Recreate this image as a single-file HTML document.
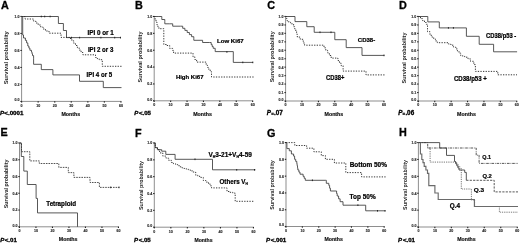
<!DOCTYPE html><html><head><meta charset="utf-8"><style>html,body{margin:0;padding:0;background:#fff;}body{width:520px;height:244px;overflow:hidden;}svg{display:block;filter:grayscale(1) blur(0.3px);}text{font-family:"Liberation Sans", sans-serif;}</style></head><body>
<svg width="520" height="244" viewBox="0 0 520 244">
<rect width="520" height="244" fill="#fff"/>
<text x="1.1" y="8.6" font-size="10.80" font-weight="bold" font-style="normal" text-anchor="start" fill="#000" stroke="#000" stroke-width="0.30">A</text>
<text x="135.0" y="8.6" font-size="10.80" font-weight="bold" font-style="normal" text-anchor="start" fill="#000" stroke="#000" stroke-width="0.30">B</text>
<text x="267.2" y="8.7" font-size="10.80" font-weight="bold" font-style="normal" text-anchor="start" fill="#000" stroke="#000" stroke-width="0.30">C</text>
<text x="399.0" y="8.5" font-size="10.80" font-weight="bold" font-style="normal" text-anchor="start" fill="#000" stroke="#000" stroke-width="0.30">D</text>
<text x="0.6" y="136.4" font-size="10.80" font-weight="bold" font-style="normal" text-anchor="start" fill="#000" stroke="#000" stroke-width="0.30">E</text>
<text x="134.9" y="136.7" font-size="10.80" font-weight="bold" font-style="normal" text-anchor="start" fill="#000" stroke="#000" stroke-width="0.30">F</text>
<text x="267.0" y="136.6" font-size="10.80" font-weight="bold" font-style="normal" text-anchor="start" fill="#000" stroke="#000" stroke-width="0.30">G</text>
<text x="399.0" y="136.4" font-size="10.80" font-weight="bold" font-style="normal" text-anchor="start" fill="#000" stroke="#000" stroke-width="0.30">H</text>
<path d="M21.6,16.5 V101.4 H121.3" fill="none" stroke="#7a7a7a" stroke-width="0.85"/>
<rect x="20.4" y="100.9" width="1.4" height="1.1" fill="#222"/>
<text x="19.6" y="101.1" font-size="3.60" font-weight="bold" font-style="normal" text-anchor="end" fill="#2a2a2a" stroke="#2a2a2a" stroke-width="0.13">0.0</text>
<rect x="20.4" y="83.9" width="1.4" height="1.1" fill="#222"/>
<text x="19.6" y="85.7" font-size="3.60" font-weight="bold" font-style="normal" text-anchor="end" fill="#2a2a2a" stroke="#2a2a2a" stroke-width="0.13">0.2</text>
<rect x="20.4" y="66.9" width="1.4" height="1.1" fill="#222"/>
<text x="19.6" y="68.7" font-size="3.60" font-weight="bold" font-style="normal" text-anchor="end" fill="#2a2a2a" stroke="#2a2a2a" stroke-width="0.13">0.4</text>
<rect x="20.4" y="49.9" width="1.4" height="1.1" fill="#222"/>
<text x="19.6" y="51.8" font-size="3.60" font-weight="bold" font-style="normal" text-anchor="end" fill="#2a2a2a" stroke="#2a2a2a" stroke-width="0.13">0.6</text>
<rect x="20.4" y="32.9" width="1.4" height="1.1" fill="#222"/>
<text x="19.6" y="34.8" font-size="3.60" font-weight="bold" font-style="normal" text-anchor="end" fill="#2a2a2a" stroke="#2a2a2a" stroke-width="0.13">0.8</text>
<rect x="20.4" y="15.9" width="1.4" height="1.1" fill="#222"/>
<text x="19.6" y="17.8" font-size="3.60" font-weight="bold" font-style="normal" text-anchor="end" fill="#2a2a2a" stroke="#2a2a2a" stroke-width="0.13">1.0</text>
<rect x="21.1" y="101.2" width="1.1" height="1.4" fill="#222"/>
<text x="21.6" y="106.8" font-size="3.60" font-weight="bold" font-style="normal" text-anchor="middle" fill="#2a2a2a" stroke="#2a2a2a" stroke-width="0.13">0</text>
<rect x="37.6" y="101.2" width="1.1" height="1.4" fill="#222"/>
<text x="38.2" y="106.8" font-size="3.60" font-weight="bold" font-style="normal" text-anchor="middle" fill="#2a2a2a" stroke="#2a2a2a" stroke-width="0.13">10</text>
<rect x="54.2" y="101.2" width="1.1" height="1.4" fill="#222"/>
<text x="54.7" y="106.8" font-size="3.60" font-weight="bold" font-style="normal" text-anchor="middle" fill="#2a2a2a" stroke="#2a2a2a" stroke-width="0.13">20</text>
<rect x="70.7" y="101.2" width="1.1" height="1.4" fill="#222"/>
<text x="71.2" y="106.8" font-size="3.60" font-weight="bold" font-style="normal" text-anchor="middle" fill="#2a2a2a" stroke="#2a2a2a" stroke-width="0.13">30</text>
<rect x="87.3" y="101.2" width="1.1" height="1.4" fill="#222"/>
<text x="87.8" y="106.8" font-size="3.60" font-weight="bold" font-style="normal" text-anchor="middle" fill="#2a2a2a" stroke="#2a2a2a" stroke-width="0.13">40</text>
<rect x="103.8" y="101.2" width="1.1" height="1.4" fill="#222"/>
<text x="104.4" y="106.8" font-size="3.60" font-weight="bold" font-style="normal" text-anchor="middle" fill="#2a2a2a" stroke="#2a2a2a" stroke-width="0.13">50</text>
<rect x="120.4" y="101.2" width="1.1" height="1.4" fill="#222"/>
<text x="120.9" y="106.8" font-size="3.60" font-weight="bold" font-style="normal" text-anchor="middle" fill="#2a2a2a" stroke="#2a2a2a" stroke-width="0.13">60</text>
<text transform="translate(8.0,57.7) rotate(-90)" x="0" y="0" font-size="5.60" font-weight="bold" text-anchor="middle" fill="#1e1e1e" textLength="53.0" lengthAdjust="spacingAndGlyphs">Survival probability</text>
<path d="M21.8,16.5 H58.4 V23.5 H63.4 V30.5 H66.5 V37.6 H121.0" fill="none" stroke="#3a3a3a" stroke-width="0.85"/>
<rect x="40.8" y="15.7" width="1.0" height="1.6" fill="#222"/>
<rect x="44.2" y="15.7" width="1.0" height="1.6" fill="#222"/>
<rect x="49.6" y="15.7" width="1.0" height="1.6" fill="#222"/>
<rect x="71.0" y="36.8" width="1.0" height="1.6" fill="#222"/>
<rect x="79.1" y="36.8" width="1.0" height="1.6" fill="#222"/>
<rect x="100.4" y="36.8" width="1.0" height="1.6" fill="#222"/>
<rect x="114.2" y="36.8" width="1.0" height="1.6" fill="#222"/>
<rect x="120.0" y="36.8" width="1.0" height="1.6" fill="#222"/>
<path d="M21.8,16.5 H25.0 V19.0 H31.0 H33.4 V21.0 H35.8 V23.0 H38.2 V25.0 H40.7 V27.0 H43.1 V29.0 H45.5 V31.0 H49.0 V33.2 H61.0 V37.4 H68.0 H70.0 V38.5 H71.8 V40.8 H73.7 V43.2 H75.5 V45.5 H77.4 V47.8 H79.2 V50.1 H81.1 V52.5 H82.9 V54.8 H91.9 H95.5 V57.5 H97.3 V58.6 H99.2 V59.7 H102.3 V66.3 H121.5" fill="none" stroke="#222" stroke-width="0.9" stroke-dasharray="1.3,1.3"/>
<path d="M21.8,16.5 H22.7 V35.0 H23.5 V38.0 H25.4 V40.4 H26.6 V42.9 H27.8 V46.0 H28.9 V48.1 H29.9 V50.3 H31.5 V51.9 H32.0 V53.8 H32.5 V55.6 H33.6 V58.8 V64.3 H41.3 V69.6 H52.9 V74.9 H79.5 V81.3 H103.3 V87.6 H121.5" fill="none" stroke="#3a3a3a" stroke-width="0.85"/>
<text x="87.6" y="34.6" font-size="6.40" font-weight="bold" font-style="normal" text-anchor="start" fill="#000" stroke="#000" stroke-width="0.22" textLength="26.2" lengthAdjust="spacingAndGlyphs">IPI 0 or 1</text>
<text x="87.9" y="52.2" font-size="6.40" font-weight="bold" font-style="normal" text-anchor="start" fill="#000" stroke="#000" stroke-width="0.22" textLength="25.4" lengthAdjust="spacingAndGlyphs">IPI 2 or 3</text>
<text x="86.6" y="77.2" font-size="6.40" font-weight="bold" font-style="normal" text-anchor="start" fill="#000" stroke="#000" stroke-width="0.22" textLength="25.6" lengthAdjust="spacingAndGlyphs">IPI 4 or 5</text>
<text x="-0.1" y="114.6" font-size="6.20" font-weight="bold" font-style="normal" text-anchor="start" fill="#000" stroke="#000" stroke-width="0.32"><tspan font-style="italic">P</tspan><tspan dx="0.3">&lt;.0001</tspan></text>
<text x="61.4" y="115.5" font-size="5.60" font-weight="bold" font-style="normal" text-anchor="start" fill="#111" stroke="#111" stroke-width="0.18" textLength="18.8" lengthAdjust="spacingAndGlyphs">Months</text>
<path d="M154.2,16.5 V100.8 H253.1" fill="none" stroke="#7a7a7a" stroke-width="0.85"/>
<rect x="153.0" y="100.2" width="1.4" height="1.1" fill="#222"/>
<text x="152.2" y="100.5" font-size="3.60" font-weight="bold" font-style="normal" text-anchor="end" fill="#2a2a2a" stroke="#2a2a2a" stroke-width="0.13">0.0</text>
<rect x="153.0" y="83.4" width="1.4" height="1.1" fill="#222"/>
<text x="152.2" y="85.2" font-size="3.60" font-weight="bold" font-style="normal" text-anchor="end" fill="#2a2a2a" stroke="#2a2a2a" stroke-width="0.13">0.2</text>
<rect x="153.0" y="66.5" width="1.4" height="1.1" fill="#222"/>
<text x="152.2" y="68.4" font-size="3.60" font-weight="bold" font-style="normal" text-anchor="end" fill="#2a2a2a" stroke="#2a2a2a" stroke-width="0.13">0.4</text>
<rect x="153.0" y="49.7" width="1.4" height="1.1" fill="#222"/>
<text x="152.2" y="51.5" font-size="3.60" font-weight="bold" font-style="normal" text-anchor="end" fill="#2a2a2a" stroke="#2a2a2a" stroke-width="0.13">0.6</text>
<rect x="153.0" y="32.8" width="1.4" height="1.1" fill="#222"/>
<text x="152.2" y="34.7" font-size="3.60" font-weight="bold" font-style="normal" text-anchor="end" fill="#2a2a2a" stroke="#2a2a2a" stroke-width="0.13">0.8</text>
<rect x="153.0" y="15.9" width="1.4" height="1.1" fill="#222"/>
<text x="152.2" y="17.8" font-size="3.60" font-weight="bold" font-style="normal" text-anchor="end" fill="#2a2a2a" stroke="#2a2a2a" stroke-width="0.13">1.0</text>
<rect x="153.6" y="100.6" width="1.1" height="1.4" fill="#222"/>
<text x="154.2" y="106.2" font-size="3.60" font-weight="bold" font-style="normal" text-anchor="middle" fill="#2a2a2a" stroke="#2a2a2a" stroke-width="0.13">0</text>
<rect x="170.1" y="100.6" width="1.1" height="1.4" fill="#222"/>
<text x="170.6" y="106.2" font-size="3.60" font-weight="bold" font-style="normal" text-anchor="middle" fill="#2a2a2a" stroke="#2a2a2a" stroke-width="0.13">10</text>
<rect x="186.5" y="100.6" width="1.1" height="1.4" fill="#222"/>
<text x="187.0" y="106.2" font-size="3.60" font-weight="bold" font-style="normal" text-anchor="middle" fill="#2a2a2a" stroke="#2a2a2a" stroke-width="0.13">20</text>
<rect x="202.9" y="100.6" width="1.1" height="1.4" fill="#222"/>
<text x="203.4" y="106.2" font-size="3.60" font-weight="bold" font-style="normal" text-anchor="middle" fill="#2a2a2a" stroke="#2a2a2a" stroke-width="0.13">30</text>
<rect x="219.3" y="100.6" width="1.1" height="1.4" fill="#222"/>
<text x="219.9" y="106.2" font-size="3.60" font-weight="bold" font-style="normal" text-anchor="middle" fill="#2a2a2a" stroke="#2a2a2a" stroke-width="0.13">40</text>
<rect x="235.7" y="100.6" width="1.1" height="1.4" fill="#222"/>
<text x="236.3" y="106.2" font-size="3.60" font-weight="bold" font-style="normal" text-anchor="middle" fill="#2a2a2a" stroke="#2a2a2a" stroke-width="0.13">50</text>
<rect x="252.1" y="100.6" width="1.1" height="1.4" fill="#222"/>
<text x="252.7" y="106.2" font-size="3.60" font-weight="bold" font-style="normal" text-anchor="middle" fill="#2a2a2a" stroke="#2a2a2a" stroke-width="0.13">60</text>
<text transform="translate(141.9,57.0) rotate(-90)" x="0" y="0" font-size="5.60" font-weight="bold" text-anchor="middle" fill="#1e1e1e" textLength="51.0" lengthAdjust="spacingAndGlyphs">Survival probability</text>
<path d="M154.2,16.5 H158.9 H161.8 V19.5 H164.8 V21.4 V23.8 H169.7 H172.7 V26.2 H180.5 H182.7 V28.3 H184.9 V30.4 H187.2 V32.5 H189.4 V34.6 H191.6 V36.7 H193.8 V38.8 V40.3 H202.6 V42.5 H209.5 H211.2 V44.6 H212.2 V46.5 H213.2 V48.3 H215.2 V51.6 H233.3 V62.4 H253.0" fill="none" stroke="#3a3a3a" stroke-width="0.85"/>
<rect x="226.4" y="51.1" width="1.0" height="1.6" fill="#222"/>
<rect x="242.3" y="61.6" width="1.0" height="1.6" fill="#222"/>
<rect x="252.3" y="61.6" width="1.0" height="1.6" fill="#222"/>
<path d="M154.2,16.5 H155.1 V19.3 H156.0 V22.0 H156.9 V24.8 H157.9 V26.8 H158.9 V28.7 H163.8 V44.5 H166.7 V45.5 H169.7 V48.4 H172.6 V50.4 H173.6 V53.1 H193.0 V56.8 H194.8 V59.5 H196.6 V62.1 H204.0 H206.2 V65.3 H207.5 V67.4 H208.8 V69.5 H210.2 V71.7 H211.5 V73.8 V77.0 H254.0" fill="none" stroke="#222" stroke-width="0.9" stroke-dasharray="1.3,1.3"/>
<text x="217.0" y="42.6" font-size="6.10" font-weight="bold" font-style="normal" text-anchor="start" fill="#000" stroke="#000" stroke-width="0.21" textLength="26.7" lengthAdjust="spacingAndGlyphs">Low Ki67</text>
<text x="175.9" y="78.9" font-size="6.10" font-weight="bold" font-style="normal" text-anchor="start" fill="#000" stroke="#000" stroke-width="0.21" textLength="27.6" lengthAdjust="spacingAndGlyphs">High Ki67</text>
<text x="134.2" y="114.6" font-size="6.10" font-weight="bold" font-style="normal" text-anchor="start" fill="#000" stroke="#000" stroke-width="0.32"><tspan font-style="italic">P</tspan><tspan dx="0.7">&lt;.05</tspan></text>
<text x="193.2" y="115.5" font-size="5.60" font-weight="bold" font-style="normal" text-anchor="start" fill="#111" stroke="#111" stroke-width="0.18" textLength="18.8" lengthAdjust="spacingAndGlyphs">Months</text>
<path d="M285.6,16.5 V101.0 H384.4" fill="none" stroke="#7a7a7a" stroke-width="0.85"/>
<rect x="284.4" y="100.5" width="1.4" height="1.1" fill="#222"/>
<text x="283.6" y="100.7" font-size="3.60" font-weight="bold" font-style="normal" text-anchor="end" fill="#2a2a2a" stroke="#2a2a2a" stroke-width="0.13">0.0</text>
<rect x="284.4" y="92.0" width="1.4" height="1.1" fill="#222"/>
<text x="283.6" y="93.8" font-size="3.60" font-weight="bold" font-style="normal" text-anchor="end" fill="#2a2a2a" stroke="#2a2a2a" stroke-width="0.13">0.1</text>
<rect x="284.4" y="83.5" width="1.4" height="1.1" fill="#222"/>
<text x="283.6" y="85.4" font-size="3.60" font-weight="bold" font-style="normal" text-anchor="end" fill="#2a2a2a" stroke="#2a2a2a" stroke-width="0.13">0.2</text>
<rect x="284.4" y="75.1" width="1.4" height="1.1" fill="#222"/>
<text x="283.6" y="76.9" font-size="3.60" font-weight="bold" font-style="normal" text-anchor="end" fill="#2a2a2a" stroke="#2a2a2a" stroke-width="0.13">0.3</text>
<rect x="284.4" y="66.6" width="1.4" height="1.1" fill="#222"/>
<text x="283.6" y="68.5" font-size="3.60" font-weight="bold" font-style="normal" text-anchor="end" fill="#2a2a2a" stroke="#2a2a2a" stroke-width="0.13">0.4</text>
<rect x="284.4" y="58.2" width="1.4" height="1.1" fill="#222"/>
<text x="283.6" y="60.0" font-size="3.60" font-weight="bold" font-style="normal" text-anchor="end" fill="#2a2a2a" stroke="#2a2a2a" stroke-width="0.13">0.5</text>
<rect x="284.4" y="49.7" width="1.4" height="1.1" fill="#222"/>
<text x="283.6" y="51.6" font-size="3.60" font-weight="bold" font-style="normal" text-anchor="end" fill="#2a2a2a" stroke="#2a2a2a" stroke-width="0.13">0.6</text>
<rect x="284.4" y="41.3" width="1.4" height="1.1" fill="#222"/>
<text x="283.6" y="43.1" font-size="3.60" font-weight="bold" font-style="normal" text-anchor="end" fill="#2a2a2a" stroke="#2a2a2a" stroke-width="0.13">0.7</text>
<rect x="284.4" y="32.8" width="1.4" height="1.1" fill="#222"/>
<text x="283.6" y="34.7" font-size="3.60" font-weight="bold" font-style="normal" text-anchor="end" fill="#2a2a2a" stroke="#2a2a2a" stroke-width="0.13">0.8</text>
<rect x="284.4" y="24.4" width="1.4" height="1.1" fill="#222"/>
<text x="283.6" y="26.3" font-size="3.60" font-weight="bold" font-style="normal" text-anchor="end" fill="#2a2a2a" stroke="#2a2a2a" stroke-width="0.13">0.9</text>
<rect x="284.4" y="15.9" width="1.4" height="1.1" fill="#222"/>
<text x="283.6" y="17.8" font-size="3.60" font-weight="bold" font-style="normal" text-anchor="end" fill="#2a2a2a" stroke="#2a2a2a" stroke-width="0.13">1.0</text>
<rect x="285.1" y="100.8" width="1.1" height="1.4" fill="#222"/>
<text x="285.6" y="106.4" font-size="3.60" font-weight="bold" font-style="normal" text-anchor="middle" fill="#2a2a2a" stroke="#2a2a2a" stroke-width="0.13">0</text>
<rect x="301.4" y="100.8" width="1.1" height="1.4" fill="#222"/>
<text x="302.0" y="106.4" font-size="3.60" font-weight="bold" font-style="normal" text-anchor="middle" fill="#2a2a2a" stroke="#2a2a2a" stroke-width="0.13">10</text>
<rect x="317.9" y="100.8" width="1.1" height="1.4" fill="#222"/>
<text x="318.4" y="106.4" font-size="3.60" font-weight="bold" font-style="normal" text-anchor="middle" fill="#2a2a2a" stroke="#2a2a2a" stroke-width="0.13">20</text>
<rect x="334.2" y="100.8" width="1.1" height="1.4" fill="#222"/>
<text x="334.8" y="106.4" font-size="3.60" font-weight="bold" font-style="normal" text-anchor="middle" fill="#2a2a2a" stroke="#2a2a2a" stroke-width="0.13">30</text>
<rect x="350.6" y="100.8" width="1.1" height="1.4" fill="#222"/>
<text x="351.2" y="106.4" font-size="3.60" font-weight="bold" font-style="normal" text-anchor="middle" fill="#2a2a2a" stroke="#2a2a2a" stroke-width="0.13">40</text>
<rect x="367.1" y="100.8" width="1.1" height="1.4" fill="#222"/>
<text x="367.6" y="106.4" font-size="3.60" font-weight="bold" font-style="normal" text-anchor="middle" fill="#2a2a2a" stroke="#2a2a2a" stroke-width="0.13">50</text>
<rect x="383.4" y="100.8" width="1.1" height="1.4" fill="#222"/>
<text x="384.0" y="106.4" font-size="3.60" font-weight="bold" font-style="normal" text-anchor="middle" fill="#2a2a2a" stroke="#2a2a2a" stroke-width="0.13">60</text>
<text transform="translate(273.8,56.8) rotate(-90)" x="0" y="0" font-size="5.60" font-weight="bold" text-anchor="middle" fill="#1e1e1e" textLength="51.0" lengthAdjust="spacingAndGlyphs">Survival probability</text>
<path d="M285.6,16.5 H295.0 V21.6 H306.8 V26.7 H314.2 V32.3 H334.8 V39.7 H346.2 V47.6 H362.0 V55.4 H384.3" fill="none" stroke="#3a3a3a" stroke-width="0.85"/>
<rect x="319.5" y="31.5" width="1.0" height="1.6" fill="#222"/>
<rect x="330.5" y="31.5" width="1.0" height="1.6" fill="#222"/>
<rect x="383.5" y="54.6" width="1.0" height="1.6" fill="#222"/>
<path d="M285.6,16.5 H286.3 V18.6 H287.0 V20.8 H288.8 V22.3 H290.6 V23.8 H293.6 V26.7 H294.7 V28.9 H295.8 V31.2 H296.6 V34.1 H297.3 V37.1 H300.2 V39.3 H303.2 V41.5 H303.9 V43.4 H304.6 V45.2 H322.2 H324.0 V47.8 H325.8 V50.4 H327.6 V52.9 H329.4 V55.5 H331.2 V58.1 H336.2 H337.9 V60.6 H339.5 V63.2 H341.2 V65.7 H343.1 V71.1 H366.0 V74.9 H385.0" fill="none" stroke="#222" stroke-width="0.9" stroke-dasharray="1.3,1.3"/>
<text x="357.8" y="42.0" font-size="6.20" font-weight="bold" font-style="normal" text-anchor="start" fill="#000" stroke="#000" stroke-width="0.22" textLength="17.4" lengthAdjust="spacingAndGlyphs">CD38-</text>
<text x="326.0" y="79.6" font-size="6.40" font-weight="bold" font-style="normal" text-anchor="start" fill="#000" stroke="#000" stroke-width="0.22" textLength="18.3" lengthAdjust="spacingAndGlyphs">CD38+</text>
<text x="266.8" y="114.7" font-size="6.30" font-weight="bold" font-style="normal" text-anchor="start" fill="#000" stroke="#000" stroke-width="0.32"><tspan font-style="italic">P</tspan><tspan font-size="4.4" dx="0.2" dy="0.5">=</tspan><tspan dx="0.2" dy="-0.5">.07</tspan></text>
<text x="324.5" y="115.5" font-size="5.60" font-weight="bold" font-style="normal" text-anchor="start" fill="#111" stroke="#111" stroke-width="0.18" textLength="18.8" lengthAdjust="spacingAndGlyphs">Months</text>
<path d="M418.3,16.5 V101.0 H517.2" fill="none" stroke="#7a7a7a" stroke-width="0.85"/>
<rect x="417.1" y="100.5" width="1.4" height="1.1" fill="#222"/>
<text x="416.3" y="100.7" font-size="3.60" font-weight="bold" font-style="normal" text-anchor="end" fill="#2a2a2a" stroke="#2a2a2a" stroke-width="0.13">0.0</text>
<rect x="417.1" y="92.0" width="1.4" height="1.1" fill="#222"/>
<text x="416.3" y="93.8" font-size="3.60" font-weight="bold" font-style="normal" text-anchor="end" fill="#2a2a2a" stroke="#2a2a2a" stroke-width="0.13">0.1</text>
<rect x="417.1" y="83.5" width="1.4" height="1.1" fill="#222"/>
<text x="416.3" y="85.4" font-size="3.60" font-weight="bold" font-style="normal" text-anchor="end" fill="#2a2a2a" stroke="#2a2a2a" stroke-width="0.13">0.2</text>
<rect x="417.1" y="75.1" width="1.4" height="1.1" fill="#222"/>
<text x="416.3" y="76.9" font-size="3.60" font-weight="bold" font-style="normal" text-anchor="end" fill="#2a2a2a" stroke="#2a2a2a" stroke-width="0.13">0.3</text>
<rect x="417.1" y="66.6" width="1.4" height="1.1" fill="#222"/>
<text x="416.3" y="68.5" font-size="3.60" font-weight="bold" font-style="normal" text-anchor="end" fill="#2a2a2a" stroke="#2a2a2a" stroke-width="0.13">0.4</text>
<rect x="417.1" y="58.2" width="1.4" height="1.1" fill="#222"/>
<text x="416.3" y="60.0" font-size="3.60" font-weight="bold" font-style="normal" text-anchor="end" fill="#2a2a2a" stroke="#2a2a2a" stroke-width="0.13">0.5</text>
<rect x="417.1" y="49.7" width="1.4" height="1.1" fill="#222"/>
<text x="416.3" y="51.6" font-size="3.60" font-weight="bold" font-style="normal" text-anchor="end" fill="#2a2a2a" stroke="#2a2a2a" stroke-width="0.13">0.6</text>
<rect x="417.1" y="41.3" width="1.4" height="1.1" fill="#222"/>
<text x="416.3" y="43.1" font-size="3.60" font-weight="bold" font-style="normal" text-anchor="end" fill="#2a2a2a" stroke="#2a2a2a" stroke-width="0.13">0.7</text>
<rect x="417.1" y="32.8" width="1.4" height="1.1" fill="#222"/>
<text x="416.3" y="34.7" font-size="3.60" font-weight="bold" font-style="normal" text-anchor="end" fill="#2a2a2a" stroke="#2a2a2a" stroke-width="0.13">0.8</text>
<rect x="417.1" y="24.4" width="1.4" height="1.1" fill="#222"/>
<text x="416.3" y="26.3" font-size="3.60" font-weight="bold" font-style="normal" text-anchor="end" fill="#2a2a2a" stroke="#2a2a2a" stroke-width="0.13">0.9</text>
<rect x="417.1" y="15.9" width="1.4" height="1.1" fill="#222"/>
<text x="416.3" y="17.8" font-size="3.60" font-weight="bold" font-style="normal" text-anchor="end" fill="#2a2a2a" stroke="#2a2a2a" stroke-width="0.13">1.0</text>
<rect x="417.8" y="100.8" width="1.1" height="1.4" fill="#222"/>
<text x="418.3" y="106.4" font-size="3.60" font-weight="bold" font-style="normal" text-anchor="middle" fill="#2a2a2a" stroke="#2a2a2a" stroke-width="0.13">0</text>
<rect x="434.2" y="100.8" width="1.1" height="1.4" fill="#222"/>
<text x="434.7" y="106.4" font-size="3.60" font-weight="bold" font-style="normal" text-anchor="middle" fill="#2a2a2a" stroke="#2a2a2a" stroke-width="0.13">10</text>
<rect x="450.6" y="100.8" width="1.1" height="1.4" fill="#222"/>
<text x="451.1" y="106.4" font-size="3.60" font-weight="bold" font-style="normal" text-anchor="middle" fill="#2a2a2a" stroke="#2a2a2a" stroke-width="0.13">20</text>
<rect x="467.0" y="100.8" width="1.1" height="1.4" fill="#222"/>
<text x="467.5" y="106.4" font-size="3.60" font-weight="bold" font-style="normal" text-anchor="middle" fill="#2a2a2a" stroke="#2a2a2a" stroke-width="0.13">30</text>
<rect x="483.4" y="100.8" width="1.1" height="1.4" fill="#222"/>
<text x="484.0" y="106.4" font-size="3.60" font-weight="bold" font-style="normal" text-anchor="middle" fill="#2a2a2a" stroke="#2a2a2a" stroke-width="0.13">40</text>
<rect x="499.8" y="100.8" width="1.1" height="1.4" fill="#222"/>
<text x="500.4" y="106.4" font-size="3.60" font-weight="bold" font-style="normal" text-anchor="middle" fill="#2a2a2a" stroke="#2a2a2a" stroke-width="0.13">50</text>
<rect x="516.2" y="100.8" width="1.1" height="1.4" fill="#222"/>
<text x="516.8" y="106.4" font-size="3.60" font-weight="bold" font-style="normal" text-anchor="middle" fill="#2a2a2a" stroke="#2a2a2a" stroke-width="0.13">60</text>
<text transform="translate(406.3,58.0) rotate(-90)" x="0" y="0" font-size="5.60" font-weight="bold" text-anchor="middle" fill="#1e1e1e" textLength="51.0" lengthAdjust="spacingAndGlyphs">Survival probability</text>
<path d="M418.3,16.5 H427.8 V21.9 H439.3 V27.9 H466.4 V36.3 H479.2 V44.3 H493.6 V51.8 H517.1" fill="none" stroke="#3a3a3a" stroke-width="0.85"/>
<rect x="447.9" y="27.1" width="1.0" height="1.6" fill="#222"/>
<rect x="452.9" y="27.1" width="1.0" height="1.6" fill="#222"/>
<path d="M418.3,16.5 H420.5 V18.6 H422.6 V20.6 H424.5 V22.5 H426.3 V24.3 H427.5 V31.7 H430.0 V35.3 H431.9 V37.1 H433.7 V39.0 H435.5 V40.9 H437.3 V42.7 H446.0 H448.4 V44.0 H450.9 V45.2 H453.4 V47.0 H455.8 V48.9 H457.4 V51.0 H459.0 V53.1 H460.7 V55.6 H462.8 V56.4 H464.8 V57.2 H468.0 V58.9 H470.5 V61.3 H473.8 V64.6 H475.4 V71.4 H497.8 V74.8 H517.0" fill="none" stroke="#222" stroke-width="0.9" stroke-dasharray="1.3,1.3"/>
<text x="486.1" y="37.9" font-size="6.60" font-weight="bold" font-style="normal" text-anchor="start" fill="#000" stroke="#000" stroke-width="0.23" textLength="30.2" lengthAdjust="spacingAndGlyphs">CD38/p53 -</text>
<text x="453.9" y="80.5" font-size="6.60" font-weight="bold" font-style="normal" text-anchor="start" fill="#000" stroke="#000" stroke-width="0.23" textLength="33.0" lengthAdjust="spacingAndGlyphs">CD38/p53 +</text>
<text x="398.2" y="114.7" font-size="6.30" font-weight="bold" font-style="normal" text-anchor="start" fill="#000" stroke="#000" stroke-width="0.32"><tspan font-style="italic">P</tspan><tspan font-size="4.4" dx="0.2" dy="0.5">=</tspan><tspan dx="0.2" dy="-0.5">.06</tspan></text>
<text x="457.1" y="115.5" font-size="5.60" font-weight="bold" font-style="normal" text-anchor="start" fill="#111" stroke="#111" stroke-width="0.18" textLength="18.8" lengthAdjust="spacingAndGlyphs">Months</text>
<path d="M19.5,143.0 V226.8 H118.8" fill="none" stroke="#7a7a7a" stroke-width="0.85"/>
<rect x="18.3" y="226.2" width="1.4" height="1.1" fill="#222"/>
<text x="17.5" y="226.5" font-size="3.60" font-weight="bold" font-style="normal" text-anchor="end" fill="#2a2a2a" stroke="#2a2a2a" stroke-width="0.13">0.0</text>
<rect x="18.3" y="209.5" width="1.4" height="1.1" fill="#222"/>
<text x="17.5" y="211.3" font-size="3.60" font-weight="bold" font-style="normal" text-anchor="end" fill="#2a2a2a" stroke="#2a2a2a" stroke-width="0.13">0.2</text>
<rect x="18.3" y="192.7" width="1.4" height="1.1" fill="#222"/>
<text x="17.5" y="194.6" font-size="3.60" font-weight="bold" font-style="normal" text-anchor="end" fill="#2a2a2a" stroke="#2a2a2a" stroke-width="0.13">0.4</text>
<rect x="18.3" y="176.0" width="1.4" height="1.1" fill="#222"/>
<text x="17.5" y="177.8" font-size="3.60" font-weight="bold" font-style="normal" text-anchor="end" fill="#2a2a2a" stroke="#2a2a2a" stroke-width="0.13">0.6</text>
<rect x="18.3" y="159.2" width="1.4" height="1.1" fill="#222"/>
<text x="17.5" y="161.1" font-size="3.60" font-weight="bold" font-style="normal" text-anchor="end" fill="#2a2a2a" stroke="#2a2a2a" stroke-width="0.13">0.8</text>
<rect x="18.3" y="142.4" width="1.4" height="1.1" fill="#222"/>
<text x="17.5" y="144.3" font-size="3.60" font-weight="bold" font-style="normal" text-anchor="end" fill="#2a2a2a" stroke="#2a2a2a" stroke-width="0.13">1.0</text>
<rect x="18.9" y="226.6" width="1.1" height="1.4" fill="#222"/>
<text x="19.5" y="232.2" font-size="3.60" font-weight="bold" font-style="normal" text-anchor="middle" fill="#2a2a2a" stroke="#2a2a2a" stroke-width="0.13">0</text>
<rect x="35.4" y="226.6" width="1.1" height="1.4" fill="#222"/>
<text x="36.0" y="232.2" font-size="3.60" font-weight="bold" font-style="normal" text-anchor="middle" fill="#2a2a2a" stroke="#2a2a2a" stroke-width="0.13">10</text>
<rect x="51.9" y="226.6" width="1.1" height="1.4" fill="#222"/>
<text x="52.5" y="232.2" font-size="3.60" font-weight="bold" font-style="normal" text-anchor="middle" fill="#2a2a2a" stroke="#2a2a2a" stroke-width="0.13">20</text>
<rect x="68.4" y="226.6" width="1.1" height="1.4" fill="#222"/>
<text x="69.0" y="232.2" font-size="3.60" font-weight="bold" font-style="normal" text-anchor="middle" fill="#2a2a2a" stroke="#2a2a2a" stroke-width="0.13">30</text>
<rect x="84.9" y="226.6" width="1.1" height="1.4" fill="#222"/>
<text x="85.4" y="232.2" font-size="3.60" font-weight="bold" font-style="normal" text-anchor="middle" fill="#2a2a2a" stroke="#2a2a2a" stroke-width="0.13">40</text>
<rect x="101.4" y="226.6" width="1.1" height="1.4" fill="#222"/>
<text x="101.9" y="232.2" font-size="3.60" font-weight="bold" font-style="normal" text-anchor="middle" fill="#2a2a2a" stroke="#2a2a2a" stroke-width="0.13">50</text>
<rect x="117.9" y="226.6" width="1.1" height="1.4" fill="#222"/>
<text x="118.4" y="232.2" font-size="3.60" font-weight="bold" font-style="normal" text-anchor="middle" fill="#2a2a2a" stroke="#2a2a2a" stroke-width="0.13">60</text>
<text transform="translate(7.6,184.0) rotate(-90)" x="0" y="0" font-size="5.50" font-weight="bold" text-anchor="middle" fill="#1e1e1e" textLength="48.6" lengthAdjust="spacingAndGlyphs">Survival probability</text>
<path d="M19.6,143.0 H21.3 V156.5 H23.8 V171.1 H27.3 V184.5 H36.1 V198.4 H37.5 V212.9 H77.5 V226.8" fill="none" stroke="#3a3a3a" stroke-width="0.85"/>
<path d="M19.6,143.0 H21.5 V151.7 H29.8 V160.9 H39.3 V163.5 H58.8 V167.4 H62.6 H68.3 V172.6 H73.9 V177.4 H90.0 V182.5 H99.4 V187.4 H119.2" fill="none" stroke="#333" stroke-width="0.85" stroke-dasharray="1.6,1.0"/>
<rect x="110.2" y="186.6" width="1.0" height="1.6" fill="#222"/>
<rect x="118.5" y="186.6" width="1.0" height="1.6" fill="#222"/>
<text x="46.3" y="206.1" font-size="6.40" font-weight="bold" font-style="normal" text-anchor="start" fill="#000" stroke="#000" stroke-width="0.22" textLength="29.7" lengthAdjust="spacingAndGlyphs">Tetraploid</text>
<text x="0.2" y="241.9" font-size="6.10" font-weight="bold" font-style="normal" text-anchor="start" fill="#000" stroke="#000" stroke-width="0.32"><tspan font-style="italic">P</tspan><tspan dx="0.5">&lt;.01</tspan></text>
<text x="58.8" y="241.2" font-size="5.60" font-weight="bold" font-style="normal" text-anchor="start" fill="#111" stroke="#111" stroke-width="0.18" textLength="18.7" lengthAdjust="spacingAndGlyphs">Months</text>
<path d="M154.3,143.0 V227.2 H253.9" fill="none" stroke="#7a7a7a" stroke-width="0.85"/>
<rect x="153.1" y="226.6" width="1.4" height="1.1" fill="#222"/>
<text x="152.3" y="226.9" font-size="3.60" font-weight="bold" font-style="normal" text-anchor="end" fill="#2a2a2a" stroke="#2a2a2a" stroke-width="0.13">0.0</text>
<rect x="153.1" y="209.8" width="1.4" height="1.1" fill="#222"/>
<text x="152.3" y="211.7" font-size="3.60" font-weight="bold" font-style="normal" text-anchor="end" fill="#2a2a2a" stroke="#2a2a2a" stroke-width="0.13">0.2</text>
<rect x="153.1" y="193.0" width="1.4" height="1.1" fill="#222"/>
<text x="152.3" y="194.8" font-size="3.60" font-weight="bold" font-style="normal" text-anchor="end" fill="#2a2a2a" stroke="#2a2a2a" stroke-width="0.13">0.4</text>
<rect x="153.1" y="176.1" width="1.4" height="1.1" fill="#222"/>
<text x="152.3" y="178.0" font-size="3.60" font-weight="bold" font-style="normal" text-anchor="end" fill="#2a2a2a" stroke="#2a2a2a" stroke-width="0.13">0.6</text>
<rect x="153.1" y="159.3" width="1.4" height="1.1" fill="#222"/>
<text x="152.3" y="161.1" font-size="3.60" font-weight="bold" font-style="normal" text-anchor="end" fill="#2a2a2a" stroke="#2a2a2a" stroke-width="0.13">0.8</text>
<rect x="153.1" y="142.4" width="1.4" height="1.1" fill="#222"/>
<text x="152.3" y="144.3" font-size="3.60" font-weight="bold" font-style="normal" text-anchor="end" fill="#2a2a2a" stroke="#2a2a2a" stroke-width="0.13">1.0</text>
<rect x="153.8" y="227.0" width="1.1" height="1.4" fill="#222"/>
<text x="154.3" y="232.6" font-size="3.60" font-weight="bold" font-style="normal" text-anchor="middle" fill="#2a2a2a" stroke="#2a2a2a" stroke-width="0.13">0</text>
<rect x="170.3" y="227.0" width="1.1" height="1.4" fill="#222"/>
<text x="170.8" y="232.6" font-size="3.60" font-weight="bold" font-style="normal" text-anchor="middle" fill="#2a2a2a" stroke="#2a2a2a" stroke-width="0.13">10</text>
<rect x="186.8" y="227.0" width="1.1" height="1.4" fill="#222"/>
<text x="187.4" y="232.6" font-size="3.60" font-weight="bold" font-style="normal" text-anchor="middle" fill="#2a2a2a" stroke="#2a2a2a" stroke-width="0.13">20</text>
<rect x="203.3" y="227.0" width="1.1" height="1.4" fill="#222"/>
<text x="203.9" y="232.6" font-size="3.60" font-weight="bold" font-style="normal" text-anchor="middle" fill="#2a2a2a" stroke="#2a2a2a" stroke-width="0.13">30</text>
<rect x="219.9" y="227.0" width="1.1" height="1.4" fill="#222"/>
<text x="220.4" y="232.6" font-size="3.60" font-weight="bold" font-style="normal" text-anchor="middle" fill="#2a2a2a" stroke="#2a2a2a" stroke-width="0.13">40</text>
<rect x="236.4" y="227.0" width="1.1" height="1.4" fill="#222"/>
<text x="237.0" y="232.6" font-size="3.60" font-weight="bold" font-style="normal" text-anchor="middle" fill="#2a2a2a" stroke="#2a2a2a" stroke-width="0.13">50</text>
<rect x="252.9" y="227.0" width="1.1" height="1.4" fill="#222"/>
<text x="253.5" y="232.6" font-size="3.60" font-weight="bold" font-style="normal" text-anchor="middle" fill="#2a2a2a" stroke="#2a2a2a" stroke-width="0.13">60</text>
<text transform="translate(143.2,185.5) rotate(-90)" x="0" y="0" font-size="5.50" font-weight="bold" text-anchor="middle" fill="#1e1e1e" textLength="49.1" lengthAdjust="spacingAndGlyphs">Survival probability</text>
<path d="M154.3,143.0 H155.3 V147.6 H157.4 V149.7 H161.7 V151.2 H165.8 V154.4 H175.1 V159.3 H212.5 V169.8 H255.5" fill="none" stroke="#3a3a3a" stroke-width="0.85"/>
<rect x="236.2" y="169.0" width="1.0" height="1.6" fill="#222"/>
<rect x="254.0" y="169.0" width="1.0" height="1.6" fill="#222"/>
<rect x="194.5" y="158.5" width="1.0" height="1.6" fill="#222"/>
<path d="M154.3,143.0 H155.3 V147.6 H157.4 V149.7 H159.6 V152.9 H162.8 V156.1 H166.0 V158.2 H168.7 V160.3 H171.3 V162.5 H173.4 V163.6 H175.6 V164.6 H177.7 V165.7 H179.8 V166.8 H181.9 V167.8 H184.0 V168.5 H186.2 V169.2 H188.3 V169.9 H190.4 V170.9 H192.6 V172.0 H195.7 V175.2 H197.8 V176.3 H200.0 V177.4 H203.3 V180.5 H205.9 V182.1 H208.5 V183.7 H210.0 V185.8 H211.5 V187.9 H224.6 H227.0 V191.5 H229.9 V192.3 H232.8 V193.1 H235.2 V201.3 H254.1" fill="none" stroke="#222" stroke-width="0.9" stroke-dasharray="1.3,1.3"/>
<text x="208.4" y="156.8" font-size="6.3" font-weight="bold" fill="#000" stroke="#000" stroke-width="0.2" textLength="43.6" lengthAdjust="spacingAndGlyphs">V<tspan font-size="3.4" dy="0.9">H</tspan><tspan dy="-0.9">3-21+V</tspan><tspan font-size="3.4" dy="0.9">H</tspan><tspan dy="-0.9">4-59</tspan></text>
<text x="219.5" y="184.1" font-size="6.5" font-weight="bold" fill="#000" stroke="#000" stroke-width="0.2" textLength="28.4" lengthAdjust="spacingAndGlyphs">Others V<tspan font-size="3.4" dy="0.9">H</tspan></text>
<text x="133.9" y="241.9" font-size="6.10" font-weight="bold" font-style="normal" text-anchor="start" fill="#000" stroke="#000" stroke-width="0.32"><tspan font-style="italic">P</tspan><tspan dx="0.7">&lt;.05</tspan></text>
<text x="194.4" y="241.9" font-size="5.60" font-weight="bold" font-style="normal" text-anchor="start" fill="#111" stroke="#111" stroke-width="0.18" textLength="18.1" lengthAdjust="spacingAndGlyphs">Months</text>
<path d="M286.0,142.6 V226.5 H384.6" fill="none" stroke="#7a7a7a" stroke-width="0.85"/>
<rect x="284.8" y="225.9" width="1.4" height="1.1" fill="#222"/>
<text x="284.0" y="226.2" font-size="3.60" font-weight="bold" font-style="normal" text-anchor="end" fill="#2a2a2a" stroke="#2a2a2a" stroke-width="0.13">0.0</text>
<rect x="284.8" y="209.2" width="1.4" height="1.1" fill="#222"/>
<text x="284.0" y="211.0" font-size="3.60" font-weight="bold" font-style="normal" text-anchor="end" fill="#2a2a2a" stroke="#2a2a2a" stroke-width="0.13">0.2</text>
<rect x="284.8" y="192.4" width="1.4" height="1.1" fill="#222"/>
<text x="284.0" y="194.2" font-size="3.60" font-weight="bold" font-style="normal" text-anchor="end" fill="#2a2a2a" stroke="#2a2a2a" stroke-width="0.13">0.4</text>
<rect x="284.8" y="175.6" width="1.4" height="1.1" fill="#222"/>
<text x="284.0" y="177.5" font-size="3.60" font-weight="bold" font-style="normal" text-anchor="end" fill="#2a2a2a" stroke="#2a2a2a" stroke-width="0.13">0.6</text>
<rect x="284.8" y="158.8" width="1.4" height="1.1" fill="#222"/>
<text x="284.0" y="160.7" font-size="3.60" font-weight="bold" font-style="normal" text-anchor="end" fill="#2a2a2a" stroke="#2a2a2a" stroke-width="0.13">0.8</text>
<rect x="284.8" y="142.0" width="1.4" height="1.1" fill="#222"/>
<text x="284.0" y="143.9" font-size="3.60" font-weight="bold" font-style="normal" text-anchor="end" fill="#2a2a2a" stroke="#2a2a2a" stroke-width="0.13">1.0</text>
<rect x="285.4" y="226.3" width="1.1" height="1.4" fill="#222"/>
<text x="286.0" y="231.9" font-size="3.60" font-weight="bold" font-style="normal" text-anchor="middle" fill="#2a2a2a" stroke="#2a2a2a" stroke-width="0.13">0</text>
<rect x="301.8" y="226.3" width="1.1" height="1.4" fill="#222"/>
<text x="302.4" y="231.9" font-size="3.60" font-weight="bold" font-style="normal" text-anchor="middle" fill="#2a2a2a" stroke="#2a2a2a" stroke-width="0.13">10</text>
<rect x="318.2" y="226.3" width="1.1" height="1.4" fill="#222"/>
<text x="318.7" y="231.9" font-size="3.60" font-weight="bold" font-style="normal" text-anchor="middle" fill="#2a2a2a" stroke="#2a2a2a" stroke-width="0.13">20</text>
<rect x="334.6" y="226.3" width="1.1" height="1.4" fill="#222"/>
<text x="335.1" y="231.9" font-size="3.60" font-weight="bold" font-style="normal" text-anchor="middle" fill="#2a2a2a" stroke="#2a2a2a" stroke-width="0.13">30</text>
<rect x="350.9" y="226.3" width="1.1" height="1.4" fill="#222"/>
<text x="351.5" y="231.9" font-size="3.60" font-weight="bold" font-style="normal" text-anchor="middle" fill="#2a2a2a" stroke="#2a2a2a" stroke-width="0.13">40</text>
<rect x="367.3" y="226.3" width="1.1" height="1.4" fill="#222"/>
<text x="367.8" y="231.9" font-size="3.60" font-weight="bold" font-style="normal" text-anchor="middle" fill="#2a2a2a" stroke="#2a2a2a" stroke-width="0.13">50</text>
<rect x="383.6" y="226.3" width="1.1" height="1.4" fill="#222"/>
<text x="384.2" y="231.9" font-size="3.60" font-weight="bold" font-style="normal" text-anchor="middle" fill="#2a2a2a" stroke="#2a2a2a" stroke-width="0.13">60</text>
<text transform="translate(274.4,185.0) rotate(-90)" x="0" y="0" font-size="5.50" font-weight="bold" text-anchor="middle" fill="#1e1e1e" textLength="49.5" lengthAdjust="spacingAndGlyphs">Survival probability</text>
<path d="M286.0,142.6 H294.8 V145.5 H306.6 V148.2 H313.9 V151.8 H321.3 V155.6 H325.4 V159.3 H334.4 V163.0 H345.8 V172.6 H361.6 V176.9 H386.0" fill="none" stroke="#222" stroke-width="0.9" stroke-dasharray="1.3,1.3"/>
<path d="M286.0,142.6 H286.9 V148.6 H289.3 V150.8 H291.4 V154.0 H293.6 V156.1 H294.6 V159.3 H295.7 V161.4 H296.8 V163.5 H297.1 V165.6 H297.5 V167.8 H297.8 V169.9 H298.9 V172.1 H300.0 V174.2 H303.1 V176.3 H304.2 V178.3 H305.3 V180.3 H325.7 H326.3 V183.3 H328.8 V185.4 H329.6 V188.2 H330.4 V191.0 H336.0 H336.6 V193.5 H337.2 V196.0 H338.6 V198.8 H340.1 V201.7 H343.0 V205.2 H365.7 V210.8 H385.4" fill="none" stroke="#3a3a3a" stroke-width="0.85"/>
<rect x="311.9" y="179.5" width="1.0" height="1.6" fill="#222"/>
<rect x="357.4" y="204.4" width="1.0" height="1.6" fill="#222"/>
<rect x="377.0" y="210.0" width="1.0" height="1.6" fill="#222"/>
<rect x="384.5" y="210.0" width="1.0" height="1.6" fill="#222"/>
<text x="349.7" y="166.9" font-size="6.30" font-weight="bold" font-style="normal" text-anchor="start" fill="#000" stroke="#000" stroke-width="0.22" textLength="37.2" lengthAdjust="spacingAndGlyphs">Bottom 50%</text>
<text x="349.6" y="198.8" font-size="6.60" font-weight="bold" font-style="normal" text-anchor="start" fill="#000" stroke="#000" stroke-width="0.23" textLength="26.1" lengthAdjust="spacingAndGlyphs">Top 50%</text>
<text x="265.9" y="242.4" font-size="6.20" font-weight="bold" font-style="normal" text-anchor="start" fill="#000" stroke="#000" stroke-width="0.32"><tspan font-style="italic">P</tspan><tspan dx="0.6">&lt;.001</tspan></text>
<text x="324.4" y="240.9" font-size="5.60" font-weight="bold" font-style="normal" text-anchor="start" fill="#111" stroke="#111" stroke-width="0.18" textLength="18.5" lengthAdjust="spacingAndGlyphs">Months</text>
<path d="M418.4,142.6 V227.0 H517.6" fill="none" stroke="#7a7a7a" stroke-width="0.85"/>
<rect x="417.2" y="226.4" width="1.4" height="1.1" fill="#222"/>
<text x="416.4" y="226.7" font-size="3.60" font-weight="bold" font-style="normal" text-anchor="end" fill="#2a2a2a" stroke="#2a2a2a" stroke-width="0.13">0.0</text>
<rect x="417.2" y="209.6" width="1.4" height="1.1" fill="#222"/>
<text x="416.4" y="211.4" font-size="3.60" font-weight="bold" font-style="normal" text-anchor="end" fill="#2a2a2a" stroke="#2a2a2a" stroke-width="0.13">0.2</text>
<rect x="417.2" y="192.7" width="1.4" height="1.1" fill="#222"/>
<text x="416.4" y="194.5" font-size="3.60" font-weight="bold" font-style="normal" text-anchor="end" fill="#2a2a2a" stroke="#2a2a2a" stroke-width="0.13">0.4</text>
<rect x="417.2" y="175.8" width="1.4" height="1.1" fill="#222"/>
<text x="416.4" y="177.7" font-size="3.60" font-weight="bold" font-style="normal" text-anchor="end" fill="#2a2a2a" stroke="#2a2a2a" stroke-width="0.13">0.6</text>
<rect x="417.2" y="158.9" width="1.4" height="1.1" fill="#222"/>
<text x="416.4" y="160.8" font-size="3.60" font-weight="bold" font-style="normal" text-anchor="end" fill="#2a2a2a" stroke="#2a2a2a" stroke-width="0.13">0.8</text>
<rect x="417.2" y="142.0" width="1.4" height="1.1" fill="#222"/>
<text x="416.4" y="143.9" font-size="3.60" font-weight="bold" font-style="normal" text-anchor="end" fill="#2a2a2a" stroke="#2a2a2a" stroke-width="0.13">1.0</text>
<rect x="417.8" y="226.8" width="1.1" height="1.4" fill="#222"/>
<text x="418.4" y="232.4" font-size="3.60" font-weight="bold" font-style="normal" text-anchor="middle" fill="#2a2a2a" stroke="#2a2a2a" stroke-width="0.13">0</text>
<rect x="434.3" y="226.8" width="1.1" height="1.4" fill="#222"/>
<text x="434.9" y="232.4" font-size="3.60" font-weight="bold" font-style="normal" text-anchor="middle" fill="#2a2a2a" stroke="#2a2a2a" stroke-width="0.13">10</text>
<rect x="450.8" y="226.8" width="1.1" height="1.4" fill="#222"/>
<text x="451.3" y="232.4" font-size="3.60" font-weight="bold" font-style="normal" text-anchor="middle" fill="#2a2a2a" stroke="#2a2a2a" stroke-width="0.13">20</text>
<rect x="467.2" y="226.8" width="1.1" height="1.4" fill="#222"/>
<text x="467.8" y="232.4" font-size="3.60" font-weight="bold" font-style="normal" text-anchor="middle" fill="#2a2a2a" stroke="#2a2a2a" stroke-width="0.13">30</text>
<rect x="483.7" y="226.8" width="1.1" height="1.4" fill="#222"/>
<text x="484.3" y="232.4" font-size="3.60" font-weight="bold" font-style="normal" text-anchor="middle" fill="#2a2a2a" stroke="#2a2a2a" stroke-width="0.13">40</text>
<rect x="500.2" y="226.8" width="1.1" height="1.4" fill="#222"/>
<text x="500.7" y="232.4" font-size="3.60" font-weight="bold" font-style="normal" text-anchor="middle" fill="#2a2a2a" stroke="#2a2a2a" stroke-width="0.13">50</text>
<rect x="516.7" y="226.8" width="1.1" height="1.4" fill="#222"/>
<text x="517.2" y="232.4" font-size="3.60" font-weight="bold" font-style="normal" text-anchor="middle" fill="#2a2a2a" stroke="#2a2a2a" stroke-width="0.13">60</text>
<text transform="translate(407.1,185.0) rotate(-90)" x="0" y="0" font-size="5.50" font-weight="bold" text-anchor="middle" fill="#1e1e1e" textLength="49.8" lengthAdjust="spacingAndGlyphs">Survival probability</text>
<path d="M418.6,142.6 H427.7 V148.0 H476.2 V155.2 H479.1 V163.4 H518.0" fill="none" stroke="#3a3a3a" stroke-width="0.85" stroke-dasharray="2.6,0.9,0.8,0.9"/>
<path d="M418.6,142.6 H439.7 V148.0 H446.5 V155.4 H454.5 V161.5 H455.6 V163.6 H456.8 V165.8 H457.9 V167.9 H459.0 V170.0 H464.7 V172.4 H466.3 V180.3" fill="none" stroke="#3a3a3a" stroke-width="0.85"/>
<path d="M466.3,180.3 H494.2 V191.9 H518.0" fill="none" stroke="#3a3a3a" stroke-width="0.85" stroke-dasharray="2.2,1.2"/>
<path d="M427.7,148.0 H430.1 V162.1 H455.0 H456.6 V164.2 H458.1 V166.3 H459.7 V168.4 H461.3 V170.5 V189.0 H471.4 V200.0 H474.6 V206.5 H499.4 V212.2 H518.0" fill="none" stroke="#3a3a3a" stroke-width="0.85" stroke-dasharray="0.8,1.0"/>
<path d="M420.4,142.6 V154.0 H421.8 V159.5 H423.0 V162.6 H424.2 V166.3 H425.9 V170.0 H427.5 V173.3 H428.8 V185.6 H434.9 V193.0 H438.2 V199.5 H474.4 V206.5 H518.0" fill="none" stroke="#6a6a6a" stroke-width="1.15"/>
<text x="482.3" y="159.2" font-size="5.80" font-weight="bold" font-style="normal" text-anchor="start" fill="#000" stroke="#000" stroke-width="0.20" textLength="8.8" lengthAdjust="spacingAndGlyphs">Q.1</text>
<text x="482.4" y="177.5" font-size="5.80" font-weight="bold" font-style="normal" text-anchor="start" fill="#000" stroke="#000" stroke-width="0.20" textLength="9.4" lengthAdjust="spacingAndGlyphs">Q.2</text>
<text x="473.8" y="192.1" font-size="5.80" font-weight="bold" font-style="normal" text-anchor="start" fill="#000" stroke="#000" stroke-width="0.20" textLength="10.4" lengthAdjust="spacingAndGlyphs">Q.3</text>
<text x="449.8" y="207.6" font-size="6.38" font-weight="bold" font-style="normal" text-anchor="start" fill="#000" stroke="#000" stroke-width="0.22" textLength="10.3" lengthAdjust="spacingAndGlyphs">Q.4</text>
<text x="397.9" y="241.9" font-size="6.10" font-weight="bold" font-style="normal" text-anchor="start" fill="#000" stroke="#000" stroke-width="0.32"><tspan font-style="italic">P</tspan><tspan dx="1.0">&lt;.01</tspan></text>
<text x="457.2" y="241.2" font-size="5.60" font-weight="bold" font-style="normal" text-anchor="start" fill="#111" stroke="#111" stroke-width="0.18" textLength="18.5" lengthAdjust="spacingAndGlyphs">Months</text>
</svg></body></html>
